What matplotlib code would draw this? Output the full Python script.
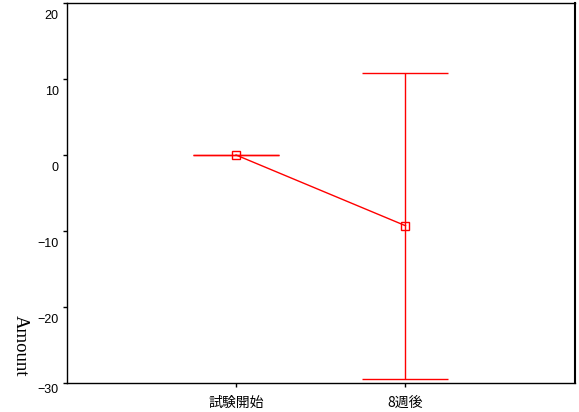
import matplotlib
matplotlib.use("Agg")
import matplotlib.pyplot as plt
import matplotlib.transforms as mtransforms

# data
groups = ["試験開始", "8週後"]
means = [0.0, -9.3]
lows = [0.0, -29.4]
highs = [0.0, 10.8]
yticks = [-30, -20, -10, 0, 10, 20]

fig = plt.figure(figsize=(5.79, 4.12), dpi=100)
ax = fig.add_axes([0.115, 0.070, 0.878, 0.923])

xpos = [1, 2]
yerr = [[m - lo for m, lo in zip(means, lows)],
        [hi - m for m, hi in zip(means, highs)]]
ax.errorbar(xpos, means, yerr=yerr, color="#ff0000", lw=1, elinewidth=1,
            capsize=31, capthick=1, marker="s", markersize=5.5,
            markerfacecolor="none", markeredgecolor="#ff0000", markeredgewidth=1)

ax.set_xlim(0, 3)
ax.set_ylim(-30, 20)

ax.set_xticks(xpos)
ax.set_xticklabels(groups, family=["Noto Sans CJK JP", "DejaVu Sans"], fontsize=10)
ax.tick_params(axis="x", direction="out", length=3, width=1, pad=6)

# y tick labels sit a bit below their ticks in the original
ax.set_yticks(yticks)
ax.set_yticklabels([])
ax.tick_params(axis="y", direction="out", length=3, width=1)
off = mtransforms.ScaledTranslation(-8 / 100, -13 / 100, fig.dpi_scale_trans)
for t in yticks:
    lab = str(t).replace("-", "\u2212")
    dy = 0 if t != -30 else 6 / 100
    tr = ax.get_yaxis_transform() + off + mtransforms.ScaledTranslation(0, dy, fig.dpi_scale_trans)
    ax.text(0, t, lab, transform=tr, ha="right", va="center",
            fontsize=9, family="Liberation Sans")

fig.text(20 / 579, 1 - 346 / 412, "Amount", rotation=270, ha="center", va="center",
         fontsize=13.5, family="Liberation Serif")

for s in ax.spines.values():
    s.set_linewidth(1)
ax.spines["right"].set_linewidth(1.5)

fig.savefig("out.png", dpi=100)
